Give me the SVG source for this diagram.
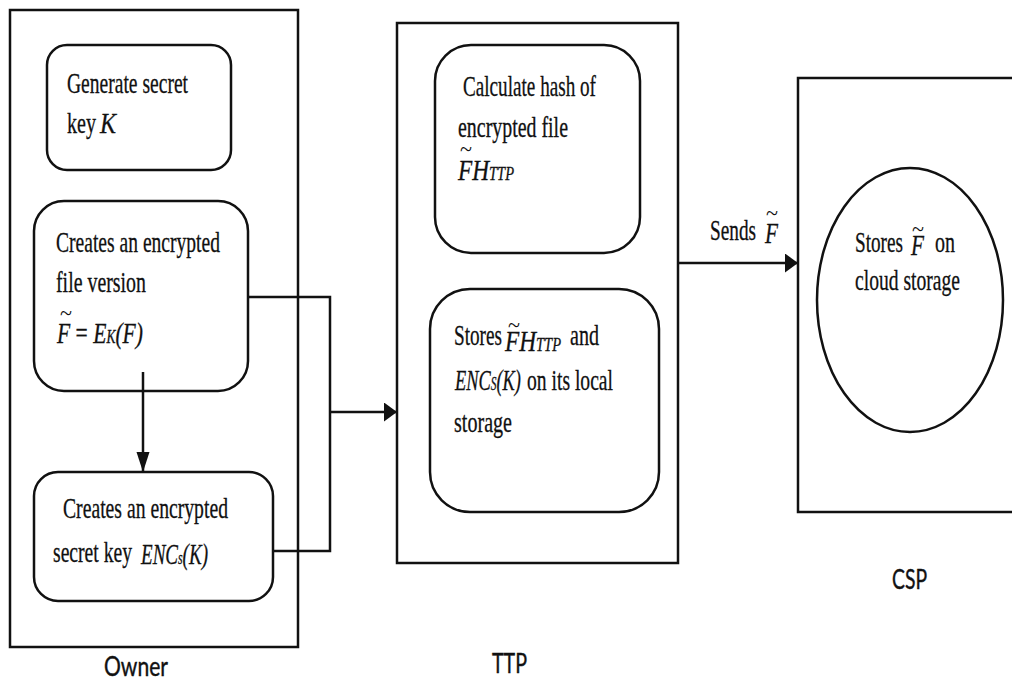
<svg xmlns="http://www.w3.org/2000/svg" width="1012" height="682" viewBox="0 0 1012 682">
  <style>
    .frame { fill: #ffffff; stroke: #111111; stroke-width: 2.5; }
    .step { fill: #ffffff; stroke: #111111; stroke-width: 2.5; }
    .wire { fill: none; stroke: #111111; stroke-width: 2.5; }
    .t { font-family: "Liberation Serif", "Times New Roman", serif; font-size: 29px; fill: #111111; stroke: #111111; stroke-width: 0.3; }
    .i { font-style: italic; }
    .sub { font-size: 18px; font-style: italic; }
    .tl { font-family: "Liberation Serif", serif; font-size: 22px; fill: #111111; }
    .lbl { font-family: Lato, "Liberation Sans", sans-serif; font-size: 26px; fill: #111111; stroke: #111111; stroke-width: 0.4; }
  </style>
  <defs>
    <!-- short, tall head for horizontal runs -->
    <marker id="headH" markerUnits="userSpaceOnUse" markerWidth="14" markerHeight="20" refX="13" refY="9.5" orient="auto">
      <path d="M0,0 L13,9.5 L0,19 Z" fill="#111111"/>
    </marker>
    <!-- long, narrow head for vertical runs -->
    <marker id="headV" markerUnits="userSpaceOnUse" markerWidth="21" markerHeight="14" refX="20" refY="6.5" orient="auto">
      <path d="M0,0 L20,6.5 L0,13 Z" fill="#111111"/>
    </marker>
  </defs>

  <rect width="1012" height="682" fill="#ffffff"/>

  <!-- Owner -->
  <g id="owner">
    <rect class="frame" x="10" y="10" width="288" height="637"/>
    <text class="lbl" x="104" y="676" textLength="64" lengthAdjust="spacingAndGlyphs">Owner</text>
  </g>

  <g id="gen-key">
    <rect class="step" x="47" y="45" width="184" height="125" rx="20"/>
    <text class="t" x="67" y="93" textLength="121" lengthAdjust="spacingAndGlyphs">Generate secret</text>
    <text class="t" x="67" y="133" textLength="29" lengthAdjust="spacingAndGlyphs">key</text>
    <text class="t i" x="100" y="133" textLength="16" lengthAdjust="spacingAndGlyphs">K</text>
  </g>

  <g id="enc-file">
    <rect class="step" x="34" y="201" width="214" height="190" rx="30"/>
    <text class="t" x="56" y="252" textLength="164" lengthAdjust="spacingAndGlyphs">Creates an encrypted</text>
    <text class="t" x="56" y="292" textLength="90" lengthAdjust="spacingAndGlyphs">file version</text>
    <text class="tl" x="60" y="320" textLength="12" lengthAdjust="spacingAndGlyphs">~</text>
    <text class="t i" x="57" y="343" textLength="86" lengthAdjust="spacingAndGlyphs">F<tspan font-style="normal"> = </tspan>E<tspan class="sub">K</tspan>(F)</text>
  </g>

  <g id="enc-key">
    <rect class="step" x="34" y="472" width="239" height="129" rx="24"/>
    <text class="t" x="63" y="518" textLength="165" lengthAdjust="spacingAndGlyphs">Creates an encrypted</text>
    <text class="t" x="53" y="562" textLength="79" lengthAdjust="spacingAndGlyphs">secret key</text>
    <text class="t i" x="141" y="564" textLength="67" lengthAdjust="spacingAndGlyphs">ENC<tspan class="sub">s</tspan>(K)</text>
  </g>

  <!-- TTP -->
  <g id="ttp">
    <rect class="frame" x="397" y="23" width="281" height="540"/>
    <text class="lbl" x="492" y="673" textLength="35" lengthAdjust="spacingAndGlyphs">TTP</text>
  </g>

  <g id="hash">
    <rect class="step" x="435" y="45" width="205" height="208" rx="36"/>
    <text class="t" x="463" y="96" textLength="133" lengthAdjust="spacingAndGlyphs">Calculate hash of</text>
    <text class="t" x="458" y="137" textLength="110" lengthAdjust="spacingAndGlyphs">encrypted file</text>
    <text class="tl" x="460" y="156" textLength="12" lengthAdjust="spacingAndGlyphs">~</text>
    <text class="t i" x="458" y="180" textLength="56" lengthAdjust="spacingAndGlyphs">FH<tspan class="sub">TTP</tspan></text>
  </g>

  <g id="local-store">
    <rect class="step" x="430" y="289" width="229" height="223" rx="40"/>
    <text class="t" x="454" y="345" textLength="48" lengthAdjust="spacingAndGlyphs">Stores</text>
    <text class="tl" x="508" y="332" textLength="12" lengthAdjust="spacingAndGlyphs">~</text>
    <text class="t i" x="505" y="351" textLength="56" lengthAdjust="spacingAndGlyphs">FH<tspan class="sub">TTP</tspan></text>
    <text class="t" x="570" y="345" textLength="29" lengthAdjust="spacingAndGlyphs">and</text>
    <text class="t i" x="455" y="390" textLength="66" lengthAdjust="spacingAndGlyphs">ENC<tspan class="sub">S</tspan>(K)</text>
    <text class="t" x="527" y="390" textLength="86" lengthAdjust="spacingAndGlyphs">on its local</text>
    <text class="t" x="454" y="432" textLength="58" lengthAdjust="spacingAndGlyphs">storage</text>
  </g>

  <!-- CSP -->
  <g id="csp">
    <rect class="frame" x="798" y="78" width="230" height="434"/>
    <text class="lbl" x="892" y="589" textLength="35" lengthAdjust="spacingAndGlyphs">CSP</text>
  </g>

  <g id="cloud-store">
    <ellipse class="step" cx="910" cy="300" rx="93" ry="132" stroke-width="2"/>
    <text class="t" x="855" y="252" textLength="48" lengthAdjust="spacingAndGlyphs">Stores</text>
    <text class="tl" x="912" y="236" textLength="12" lengthAdjust="spacingAndGlyphs">~</text>
    <text class="t i" x="911" y="255" textLength="13" lengthAdjust="spacingAndGlyphs">F</text>
    <text class="t" x="935" y="252" textLength="20" lengthAdjust="spacingAndGlyphs">on</text>
    <text class="t" x="855" y="290" textLength="105" lengthAdjust="spacingAndGlyphs">cloud storage</text>
  </g>

  <!-- connectors -->
  <g id="connectors">
    <line class="wire" x1="143" y1="372" x2="143" y2="472" marker-end="url(#headV)"/>
    <polyline class="wire" points="248,297 330,297 330,551 273,551"/>
    <line class="wire" x1="330" y1="412" x2="397" y2="412" marker-end="url(#headH)"/>
    <line class="wire" x1="678" y1="263" x2="798" y2="263" marker-end="url(#headH)"/>
    <text class="t" x="710" y="240" textLength="46" lengthAdjust="spacingAndGlyphs">Sends</text>
    <text class="tl" x="766" y="220" textLength="12" lengthAdjust="spacingAndGlyphs">~</text>
    <text class="t i" x="765" y="243" textLength="13" lengthAdjust="spacingAndGlyphs">F</text>
  </g>
</svg>
